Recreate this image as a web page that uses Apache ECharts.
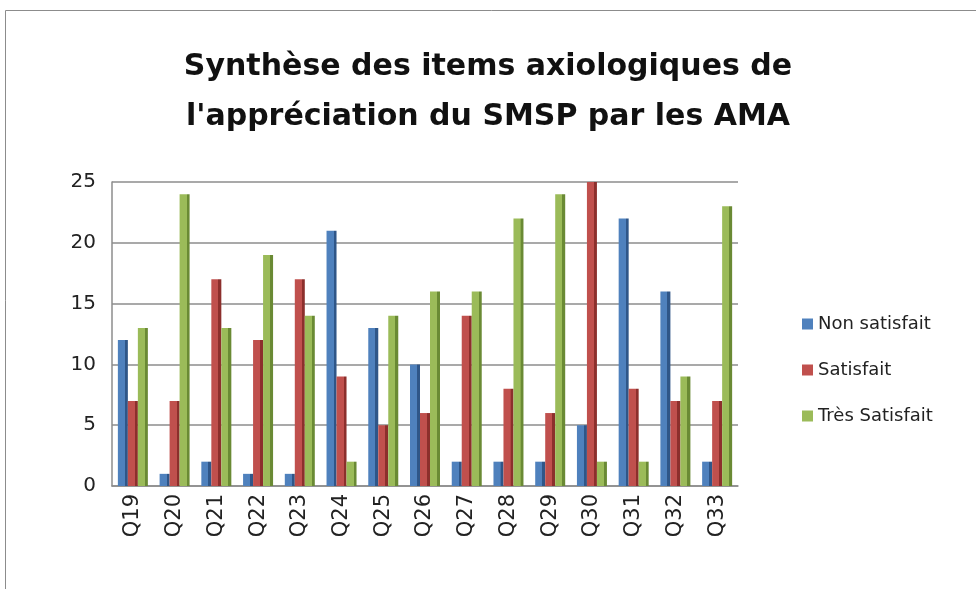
<!DOCTYPE html>
<html>
<head>
<meta charset="utf-8">
<script src="https://cdn.jsdelivr.net/npm/echarts@6/dist/echarts.min.js"></script>
<style>
  html, body { margin: 0; padding: 0; background: #fff; }
  #chart { width: 976px; height: 589px; }
</style>
</head>
<body>
<div id="chart"></div>
<script>
// Questions Q19 to Q33
const categories = ['Q19','Q20','Q21','Q22','Q23','Q24','Q25','Q26','Q27','Q28','Q29','Q30','Q31','Q32','Q33'];
const nonSatisfait   = [12, 1, 2, 1, 1, 21, 13, 10, 2, 2, 2, 5, 22, 16, 2];
const satisfait      = [7, 7, 17, 12, 17, 9, 5, 6, 14, 8, 6, 25, 8, 7, 7];
const tresSatisfait  = [13, 24, 13, 19, 14, 2, 14, 16, 16, 22, 24, 2, 2, 9, 23];
const seriesNames = ['Non satisfait', 'Satisfait', 'Très Satisfait'];

// face colour and darker side colour for each series
const faces = ['#4F81BD', '#C0504D', '#9BBB59'];
const sides = ['#2f5688', '#8c2f2c', '#6a8a34'];

function shaded(i) {
  return new echarts.graphic.LinearGradient(0, 0, 1, 0, [
    { offset: 0, color: faces[i] },
    { offset: 0.7, color: faces[i] },
    { offset: 0.71, color: sides[i] },
    { offset: 1, color: sides[i] }
  ]);
}

const chart = echarts.init(document.getElementById('chart'));
const font = '"DejaVu Sans", Verdana, sans-serif';

chart.setOption({
  animation: false,
  backgroundColor: '#ffffff',
  title: {
    text: "Synthèse des items axiologiques de\nl'appréciation du SMSP par les AMA",
    left: 'center',
    top: 37,
    textStyle: { fontFamily: font, fontSize: 30, fontWeight: 'bold', color: '#111', lineHeight: 50 }
  },
  legend: {
    orient: 'vertical',
    left: 797,
    top: 310,
    itemGap: 28,
    itemWidth: 11,
    itemHeight: 11,
    icon: 'rect',
    textStyle: { fontFamily: font, fontSize: 18, color: '#222' },
    data: seriesNames.map((n, i) => ({ name: n, itemStyle: { color: faces[i] } }))
  },
  graphic: [{
    type: 'polyline',
    shape: { points: [[5.5, 600], [5.5, 10.5], [990, 10.5]] },
    style: { stroke: '#8c8c8c', lineWidth: 1, fill: null }
  }],
  grid: { left: 112, right: 238, top: 182, bottom: 103 },
  xAxis: {
    type: 'category',
    data: categories,
    axisLine: { lineStyle: { color: '#8c8c8c', width: 1.5 } },
    axisTick: { show: false },
    axisLabel: { rotate: 90, fontFamily: font, fontSize: 21, color: '#222', margin: 8 }
  },
  yAxis: {
    type: 'value',
    min: 0,
    max: 25,
    interval: 5,
    axisLine: { show: true, lineStyle: { color: '#8c8c8c', width: 1.5 } },
    axisTick: { show: false },
    axisLabel: { fontFamily: font, fontSize: 20, color: '#222', margin: 16 },
    splitLine: { lineStyle: { color: '#8c8c8c', width: 1.5 } }
  },
  series: [nonSatisfait, satisfait, tresSatisfait].map((d, i) => ({
    name: seriesNames[i],
    type: 'bar',
    data: d,
    barWidth: 10,
    barGap: '0%',
    itemStyle: { color: shaded(i) }
  }))
});
</script>
</body>
</html>
